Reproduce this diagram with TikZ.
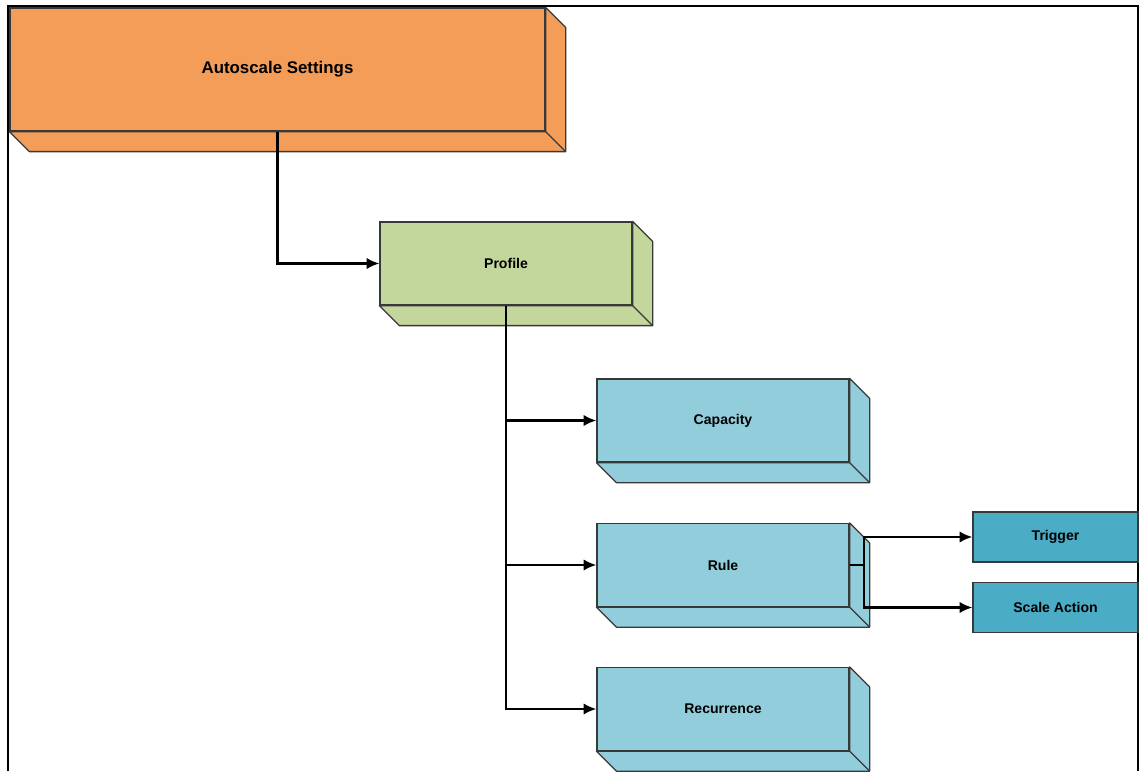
\documentclass[tikz,border=0pt]{standalone}
\usepackage{fontspec}
\setmainfont{Liberation Sans}
\usetikzlibrary{arrows.meta}
\definecolor{orangebox}{HTML}{F49D58}
\definecolor{greenbox}{HTML}{C3D69B}
\definecolor{bluebox}{HTML}{92CDDC}
\definecolor{darkbox}{HTML}{4BACC6}
\definecolor{boxline}{HTML}{383838}
\tikzset{
  block/.style={draw=boxline, line width=0.9pt, inner sep=0pt, font=\bfseries\fontsize{10}{12}\selectfont},
  bigblock/.style={block, fill=orangebox, minimum width=13.375cm, minimum height=3.075cm, font=\bfseries\fontsize{12}{14}\selectfont},
  midblock/.style={block, minimum width=6.3cm, minimum height=2.075cm},
  leafblock/.style={block, fill=darkbox, minimum width=4.125cm, minimum height=1.25cm},
  depthface/.style={draw=boxline, line width=0.9pt, line join=round},
  link/.style={line width=1.5pt, draw=black, -{Latex[length=9pt,width=8pt]}},
  frame/.style={line width=1.5pt, draw=black},
}
\begin{document}
\begin{tikzpicture}
\useasboundingbox (0,0) rectangle (28.5,19.275);
\draw[frame] (0.2,0) -- (0.2,19.125) -- (28.45,19.125) -- (28.45,0);
\node[bigblock] (auto) at (6.9375,17.5375) {Autoscale Settings};
\node[midblock, fill=greenbox] (profile) at (12.65,12.6875) {Profile};
\node[midblock, fill=bluebox] (capacity) at (18.075,8.7625) {Capacity};
\node[midblock, fill=bluebox] (rule) at (18.075,5.15) {Rule};
\node[midblock, fill=bluebox] (recurrence) at (18.075,1.55) {Recurrence};
\node[leafblock] (trigger) at (26.3875,5.85) {Trigger};
\node[leafblock] (scaleaction) at (26.3875,4.0875) {Scale Action};
% side and bottom faces of the boxes
\foreach \n/\c in {auto/orangebox, profile/greenbox, capacity/bluebox, rule/bluebox, recurrence/bluebox} {
  \filldraw[depthface, fill=\c] (\n.north east) -- ++(0.5,-0.5)
    -- ([shift={(0.5,-0.5)}]\n.south east) -- ([shift={(0.5,-0.5)}]\n.south west)
    -- (\n.south west) -- (\n.south east) -- cycle;
  \draw[depthface] (\n.south east) -- ++(0.5,-0.5);
}
% connectors
\draw[link] (auto.south) |- (profile.west);
\draw[link] (profile.south) |- (capacity.west);
\draw[link] (profile.south) |- (rule.west);
\draw[link] (profile.south) |- (recurrence.west);
\draw[link] (rule.east) -- ++(0.35,0) |- (trigger.west);
\draw[link] (rule.east) -- ++(0.35,0) |- (scaleaction.west);
\end{tikzpicture}
\end{document}
